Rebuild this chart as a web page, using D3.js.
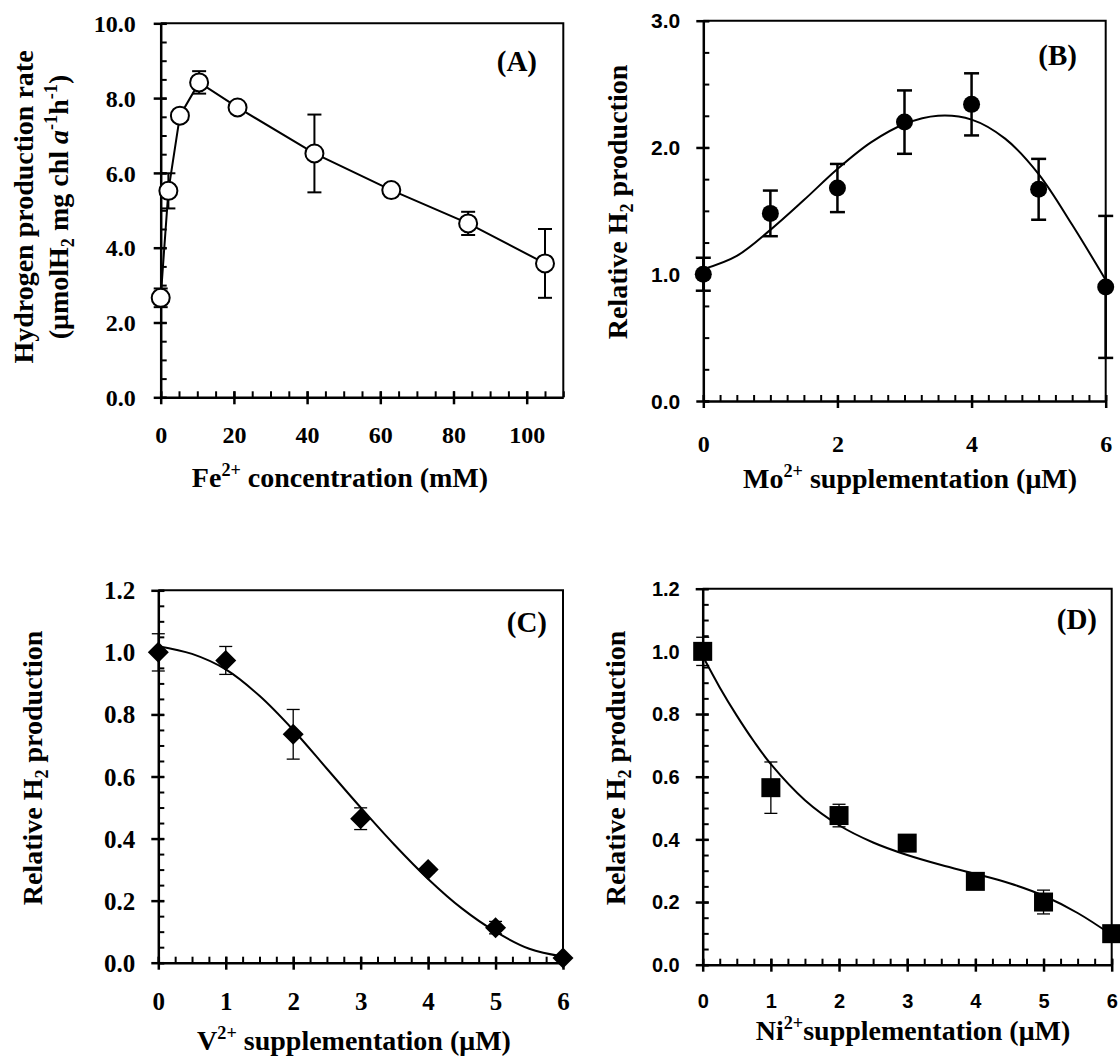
<!DOCTYPE html>
<html>
<head>
<meta charset="utf-8">
<script src="https://cdn.jsdelivr.net/npm/d3@7"></script>
<style>
  body { margin: 0; background: #fff; }
  svg text { font-weight: bold; fill: #000; }
</style>
</head>
<body>
<div id="chart"></div>
<script>
// ---- data ----
// (A) Fe2+ concentration (mM) vs hydrogen production rate
var feConc = [0, 2.1, 5.25, 10.5, 21, 42, 63, 84, 105];
var feRate = [2.66, 5.52, 7.53, 8.42, 7.75, 6.52, 5.54, 4.65, 3.58];
var feErr  = [0.25, 0.47, 0.1, 0.3, 0.1, 1.04, 0.1, 0.31, 0.92];
var feXTicks = [0, 20, 40, 60, 80, 100];
var feYTicks = [0, 2, 4, 6, 8, 10];

// (B) Mo2+ supplementation (uM) vs relative H2
var moConc = [0, 1, 2, 3, 4, 5, 6];
var moRel  = [1.00, 1.48, 1.68, 2.20, 2.34, 1.67, 0.90];
var moErr  = [0.13, 0.18, 0.19, 0.25, 0.245, 0.24, 0.56];
var moFitX = [0, 0.5, 1, 1.5, 2, 2.5, 3, 3.5, 4, 4.5, 5, 5.5, 6];
var moFitY = [1.04, 1.145, 1.35, 1.585, 1.83, 2.04, 2.185, 2.25, 2.22, 2.07, 1.79, 1.39, 0.955];
var moXTicks = [0, 2, 4, 6];
var moYTicks = [0, 1, 2, 3];

// (C) V2+ supplementation
var vConc = [0, 1, 2, 3, 4, 5, 6];
var vRel  = [1.0, 0.974, 0.736, 0.464, 0.30, 0.113, 0.015];
var vErr  = [0.06, 0.045, 0.08, 0.035, 0.01, 0.02, 0.005];
var vFitX = [0, 0.5, 1, 1.5, 2, 2.5, 3, 3.5, 4, 4.5, 5, 5.5, 6];
var vFitY = [1.02, 0.995, 0.945, 0.86, 0.75, 0.625, 0.5, 0.38, 0.27, 0.175, 0.1, 0.045, 0.02];
var vXTicks = [0, 1, 2, 3, 4, 5, 6];
var vYTicks = [0, 0.2, 0.4, 0.6, 0.8, 1.0, 1.2];

// (D) Ni2+ supplementation
var niConc = [0, 1, 2, 3, 4, 5, 6];
var niRel  = [1.0, 0.565, 0.476, 0.388, 0.266, 0.20, 0.099];
var niErr  = [0.045, 0.082, 0.036, 0.01, 0.01, 0.038, 0.005];
var niFitX = [0, 0.25, 0.5, 0.75, 1, 1.5, 2, 2.5, 3, 3.5, 4, 4.5, 5, 5.5, 6];
var niFitY = [0.985, 0.885, 0.795, 0.713, 0.64, 0.525, 0.445, 0.39, 0.35, 0.318, 0.29, 0.26, 0.22, 0.165, 0.095];
var niXTicks = [0, 1, 2, 3, 4, 5, 6];
var niYTicks = [0, 0.2, 0.4, 0.6, 0.8, 1.0, 1.2];

var serif = "'Liberation Serif','Times New Roman',serif";
var sans = "'Liberation Sans',Arial,sans-serif";

var svg = d3.select("#chart")
  .append("svg")
    .attr("width", 1120)
    .attr("height", 1057);

// text with sub/superscripts, parts = [{t, sup, sub, it}]
function richText(sel, parts, size) {
  var shift = 0;
  parts.forEach(function(p) {
    var target = p.sup ? -0.38 * size : (p.sub ? 0.22 * size : 0);
    var ts = sel.append("tspan").text(p.t).attr("dy", target - shift);
    if (p.sup || p.sub) ts.attr("font-size", size * 0.65);
    if (p.it) ts.attr("font-style", "italic");
    shift = target;
  });
}

function drawPanel(p) {
  var x = d3.scaleLinear().domain(p.xDomain).range([p.left, p.left + p.width]);
  var y = d3.scaleLinear().domain(p.yDomain).range([p.top + p.height, p.top]);
  var g = svg.append("g");

  // top + right frame
  g.append("path")
    .attr("d", "M" + p.left + "," + p.top + "H" + (p.left + p.width) + "V" + (p.top + p.height))
    .attr("fill", "none").attr("stroke", "#000").attr("stroke-width", 2);

  // minor ticks, pointing inward
  g.append("g")
    .attr("transform", "translate(0," + (p.top + p.height) + ")")
    .call(d3.axisBottom(x).tickValues(d3.range(p.xDomain[0], p.xDomain[1] + 1e-9, p.xMinor)).tickSize(-6).tickFormat(""))
    .call(function(a) { a.select(".domain").remove(); a.selectAll("line").attr("stroke-width", 2); });
  g.append("g")
    .attr("transform", "translate(" + p.left + ",0)")
    .call(d3.axisLeft(y).tickValues(d3.range(p.yDomain[0], p.yDomain[1] + 1e-9, p.yMinor)).tickSize(-6).tickFormat(""))
    .call(function(a) { a.select(".domain").remove(); a.selectAll("line").attr("stroke-width", 2); });

  // x axis, major ticks crossing the line
  var xa = g.append("g")
    .attr("transform", "translate(0," + (p.top + p.height) + ")")
    .call(d3.axisBottom(x).tickValues(p.xTicks).tickSize(7).tickSizeOuter(0).tickFormat(d3.format("d")));
  xa.select(".domain").attr("stroke-width", 2.5);
  xa.selectAll("line").attr("y1", -6).attr("stroke-width", 2.5);
  xa.selectAll("text")
    .attr("y", p.xLabelDy).attr("dy", "0.34em")
    .attr("font-family", p.xTickFont).attr("font-size", p.xTickSize).attr("font-weight", "bold");

  // y axis
  var ya = g.append("g")
    .attr("transform", "translate(" + p.left + ",0)")
    .call(d3.axisLeft(y).tickValues(p.yTicks).tickSize(7).tickSizeOuter(0).tickFormat(d3.format(".1f")));
  ya.select(".domain").attr("stroke-width", 2.5);
  ya.selectAll("line").attr("x1", 6).attr("stroke-width", 2.5);
  ya.selectAll("text")
    .attr("x", -p.yLabelGap).attr("dy", "0.34em")
    .attr("font-family", p.yTickFont).attr("font-size", p.yTickSize).attr("font-weight", "bold");

  // error bars
  var eb = g.append("g").attr("stroke", "#000").attr("stroke-width", p.errWidth);
  p.xs.forEach(function(xv, i) {
    var lo = y(p.ys[i] - p.errs[i]), hi = y(p.ys[i] + p.errs[i]), cx = x(xv);
    eb.append("line").attr("x1", cx).attr("x2", cx).attr("y1", lo).attr("y2", hi);
    eb.append("line").attr("x1", cx - p.cap).attr("x2", cx + p.cap).attr("y1", lo).attr("y2", lo);
    eb.append("line").attr("x1", cx - p.cap).attr("x2", cx + p.cap).attr("y1", hi).attr("y2", hi);
  });

  // connecting line or fitted curve
  var line = d3.line()
    .x(function(d) { return x(d[0]); })
    .y(function(d) { return y(d[1]); });
  var pts;
  if (p.fitX) {
    line.curve(d3.curveCatmullRom);
    pts = p.fitX.map(function(v, i) { return [v, p.fitY[i]]; });
  } else {
    pts = p.xs.map(function(v, i) { return [v, p.ys[i]]; });
  }
  g.append("path").attr("d", line(pts))
    .attr("fill", "none").attr("stroke", "#000").attr("stroke-width", 2);

  // markers
  var mk = g.append("g");
  p.xs.forEach(function(xv, i) {
    var cx = x(xv), cy = y(p.ys[i]);
    if (p.marker == "openCircle") {
      mk.append("circle").attr("cx", cx).attr("cy", cy).attr("r", 9)
        .attr("fill", "#fff").attr("stroke", "#000").attr("stroke-width", 2);
    } else if (p.marker == "circle") {
      mk.append("circle").attr("cx", cx).attr("cy", cy).attr("r", 8.5).attr("fill", "#000");
    } else if (p.marker == "diamond") {
      mk.append("path").attr("transform", "translate(" + cx + "," + cy + ")")
        .attr("d", "M0,-10.5L10.5,0L0,10.5L-10.5,0Z").attr("fill", "#000");
    } else {
      mk.append("rect").attr("x", cx - 9.5).attr("y", cy - 9.5)
        .attr("width", 19).attr("height", 19).attr("fill", "#000");
    }
  });

  // panel letter
  g.append("text")
    .attr("x", p.letterX).attr("y", p.letterY)
    .attr("text-anchor", "end")
    .attr("font-family", serif).attr("font-size", 29)
    .text(p.letter);

  // axis titles
  var xt = g.append("text")
    .attr("x", p.xTitleX).attr("y", p.xTitleY)
    .attr("text-anchor", "middle")
    .attr("font-family", serif).attr("font-size", 28);
  richText(xt, p.xTitle, 28);

  p.yTitles.forEach(function(t) {
    var yt = g.append("text")
      .attr("transform", "translate(" + t.x + "," + p.yTitleCy + ") rotate(-90)")
      .attr("text-anchor", "middle")
      .attr("font-family", serif).attr("font-size", 28);
    richText(yt, t.parts, 28);
  });
}

var relTitle = [{t: "Relative H"}, {t: "2", sub: true}, {t: " production"}];

// (A)
drawPanel({
  left: 160.7, top: 23.3, width: 402.6, height: 374,
  xDomain: [0, 110], yDomain: [0, 10], xMinor: 5, yMinor: 0.5,
  xTicks: feXTicks, yTicks: feYTicks,
  xs: feConc, ys: feRate, errs: feErr, errWidth: 2, cap: 7,
  marker: "openCircle",
  xTickFont: serif, xTickSize: 24, xLabelDy: 38,
  yTickFont: serif, yTickSize: 24, yLabelGap: 25,
  letter: "(A)", letterX: 537, letterY: 71,
  xTitle: [{t: "Fe"}, {t: "2+", sup: true}, {t: " concentration (mM)"}],
  xTitleX: 340, xTitleY: 487,
  yTitleCy: 207,
  yTitles: [
    {x: 33, parts: [{t: "Hydrogen production rate"}]},
    {x: 68, parts: [{t: "(μmolH"}, {t: "2", sub: true}, {t: " mg chl "}, {t: "a", it: true},
                    {t: "-1", sup: true}, {t: "h"}, {t: "-1", sup: true}, {t: ")"}]}
  ]
});

// (B)
drawPanel({
  left: 703.3, top: 20.7, width: 402.4, height: 380.3,
  xDomain: [0, 6], yDomain: [0, 3], xMinor: 0.25, yMinor: 0.25,
  xTicks: moXTicks, yTicks: moYTicks,
  xs: moConc, ys: moRel, errs: moErr, errWidth: 2.5, cap: 7.5,
  fitX: moFitX, fitY: moFitY,
  marker: "circle",
  xTickFont: serif, xTickSize: 24, xLabelDy: 43,
  yTickFont: sans, yTickSize: 21, yLabelGap: 23,
  letter: "(B)", letterX: 1077, letterY: 65,
  xTitle: [{t: "Mo"}, {t: "2+", sup: true}, {t: " supplementation (μM)"}],
  xTitleX: 910, xTitleY: 488,
  yTitleCy: 202,
  yTitles: [{x: 627, parts: relTitle}]
});

// (C)
drawPanel({
  left: 158.3, top: 590.3, width: 404.7, height: 372.4,
  xDomain: [0, 6], yDomain: [0, 1.2], xMinor: 0.25, yMinor: 0.05,
  xTicks: vXTicks, yTicks: vYTicks,
  xs: vConc, ys: vRel, errs: vErr, errWidth: 1.3, cap: 6.5,
  fitX: vFitX, fitY: vFitY,
  marker: "diamond",
  xTickFont: serif, xTickSize: 25, xLabelDy: 39,
  yTickFont: serif, yTickSize: 25, yLabelGap: 23,
  letter: "(C)", letterX: 547, letterY: 632,
  xTitle: [{t: "V"}, {t: "2+", sup: true}, {t: " supplementation (μM)"}],
  xTitleX: 354, xTitleY: 1050,
  yTitleCy: 768,
  yTitles: [{x: 42, parts: relTitle}]
});

// (D)
drawPanel({
  left: 702.7, top: 588.7, width: 409, height: 376,
  xDomain: [0, 6], yDomain: [0, 1.2], xMinor: 0.25, yMinor: 0.05,
  xTicks: niXTicks, yTicks: niYTicks,
  xs: niConc, ys: niRel, errs: niErr, errWidth: 1.3, cap: 6.5,
  fitX: niFitX, fitY: niFitY,
  marker: "square",
  xTickFont: sans, xTickSize: 20, xLabelDy: 37,
  yTickFont: sans, yTickSize: 20, yLabelGap: 23,
  letter: "(D)", letterX: 1097, letterY: 629,
  xTitle: [{t: "Ni"}, {t: "2+", sup: true}, {t: "supplementation (μM)"}],
  xTitleX: 913, xTitleY: 1040,
  yTitleCy: 768,
  yTitles: [{x: 625, parts: relTitle}]
});
</script>
</body>
</html>
